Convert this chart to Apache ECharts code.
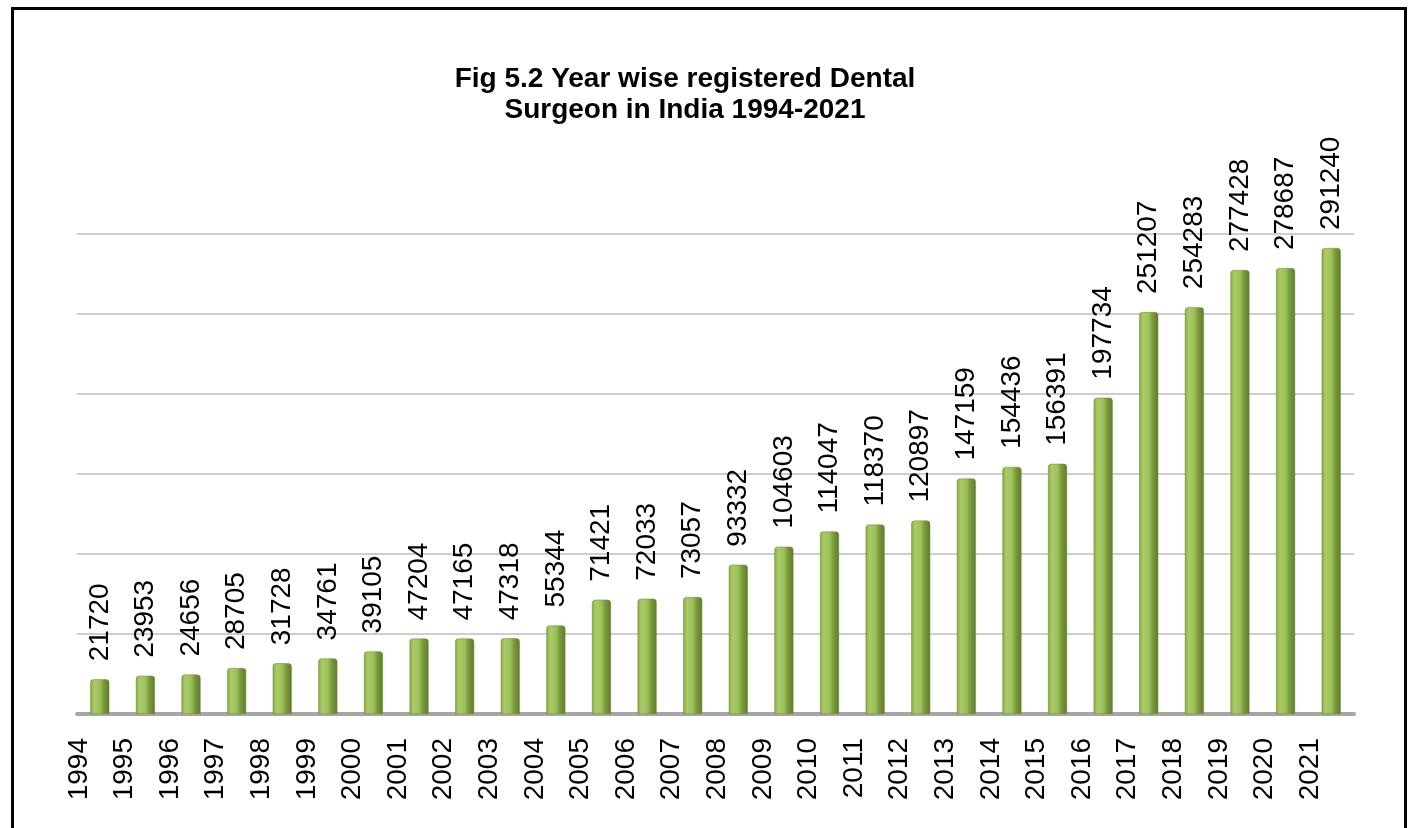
<!DOCTYPE html>
<html>
<head>
<meta charset="utf-8">
<script src="https://cdn.jsdelivr.net/npm/echarts@6/dist/echarts.min.js"></script>
<style>
html,body{margin:0;padding:0;background:#fff;}
#chart{width:1411px;height:828px;}
</style>
</head>
<body>
<div id="chart"></div>
<script>
const years = ['1994','1995','1996','1997','1998','1999','2000','2001','2002','2003','2004','2005','2006','2007','2008','2009','2010','2011','2012','2013','2014','2015','2016','2017','2018','2019','2020','2021'];
const surgeons = [21720,23953,24656,28705,31728,34761,39105,47204,47165,47318,55344,71421,72033,73057,93332,104603,114047,118370,120897,147159,154436,156391,197734,251207,254283,277428,278687,291240];
const yMax = 300000;
const yInterval = 50000;
const titleText = 'Fig 5.2 Year wise registered Dental\nSurgeon in India 1994-2021';

const chart = echarts.init(document.getElementById('chart'), null, {renderer:'canvas'});
const barColor = new echarts.graphic.LinearGradient(0,0,1,0,[
  {offset:0, color:'#86a845'},
  {offset:0.2, color:'#a9cc66'},
  {offset:0.5, color:'#9dc15a'},
  {offset:0.7, color:'#7a9a3c'},
  {offset:1, color:'#5f7c2c'}
]);
chart.setOption({
  animation:false,
  backgroundColor:'#ffffff',
  title:{
    text:titleText,
    left:680, top:59, textAlign:'center',
    textStyle:{fontFamily:'Liberation Sans', fontWeight:'bold', fontSize:28, lineHeight:31, color:'#000'}
  },
  graphic:[{
    type:'rect', left:10, top:6, shape:{width:1393, height:860},
    style:{fill:'none', stroke:'#000', lineWidth:3}, silent:true
  }],
  grid:[
    {left:77, right:57, top:234, bottom:114, containLabel:false},
    {left:56, right:78, top:234, bottom:114, containLabel:false}
  ],
  xAxis:[{
    type:'category', data:years, gridIndex:0,
    axisLine:{show:true, lineStyle:{color:'#a6a6a6', width:4}},
    axisTick:{show:false},
    axisLabel:{show:false}
  },{
    type:'category', data:years, gridIndex:1,
    axisLine:{show:false}, axisTick:{show:false},
    axisLabel:{rotate:90, margin:24, interval:0, showMinLabel:true, showMaxLabel:true, hideOverlap:false,
      fontFamily:'Liberation Sans', fontSize:28, color:'#000'}
  }],
  yAxis:[{
    type:'value', min:0, max:yMax, interval:yInterval, gridIndex:0,
    axisLabel:{show:false}, axisLine:{show:false}, axisTick:{show:false},
    splitLine:{show:true, lineStyle:{color:'#cdcdcd', width:2}}
  },{
    type:'value', min:0, max:yMax, interval:yInterval, gridIndex:1, show:false,
    splitLine:{show:false}
  }],
  series:[{
    name:'Registered Dental Surgeons',
    type:'bar', data:surgeons, barWidth:19, xAxisIndex:0, yAxisIndex:0,
    itemStyle:{color:barColor, borderRadius:[3,3,0,0], borderColor:'#6d8a35', borderWidth:0.5},
    label:{show:true, position:'top', rotate:90, align:'left', verticalAlign:'middle', distance:18,
      fontFamily:'Liberation Sans', fontSize:28, color:'#000'}
  }]
});
</script>
</body>
</html>
